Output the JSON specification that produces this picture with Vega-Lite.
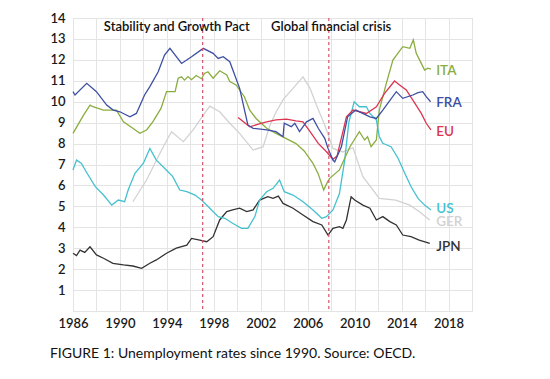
{
  "$schema": "https://vega.github.io/schema/vega-lite/v6.json",
  "width": 399,
  "height": 293,
  "autosize": {"type": "none"},
  "padding": {"left": 73, "top": 18, "right": 78, "bottom": 68},
  "background": "white",
  "config": {
    "view": {"stroke": "#cfcfcf", "strokeWidth": 1},
    "font": "Lato",
    "axis": {"labelFont": "Lato", "labelFontSize": 13, "labelColor": "#1a1a1a", "labelFontWeight": 600, "gridColor": "#e4e4e4", "gridWidth": 1, "domain": false, "ticks": false, "title": null, "labelOverlap": false, "labelFlush": false}
  },
  "title": {
    "text": "FIGURE 1: Unemployment rates since 1990. Source: OECD.",
    "orient": "bottom",
    "anchor": "start",
    "dx": 0,
    "offset": 17,
    "fontSize": 14,
    "fontWeight": "normal",
    "font": "Lato",
    "color": "#111111"
  },
  "datasets": {
    "series": [
      {"c":"GER","t":1991.1,"v":5.22},{"c":"GER","t":1992.27,"v":6.26},{"c":"GER","t":1993.26,"v":7.37},{"c":"GER","t":1994.0,"v":8.17},{"c":"GER","t":1994.4,"v":8.57},{"c":"GER","t":1995.4,"v":8.09},{"c":"GER","t":1996.24,"v":8.65},{"c":"GER","t":1997.1,"v":9.36},{"c":"GER","t":1997.66,"v":9.79},{"c":"GER","t":1998.5,"v":9.52},{"c":"GER","t":1999.36,"v":8.97},{"c":"GER","t":2000.2,"v":8.49},{"c":"GER","t":2001.35,"v":7.69},{"c":"GER","t":2002.2,"v":7.85},{"c":"GER","t":2002.8,"v":8.9},{"c":"GER","t":2003.3,"v":9.5},{"c":"GER","t":2003.9,"v":10.1},{"c":"GER","t":2004.75,"v":10.64},{"c":"GER","t":2005.6,"v":11.19},{"c":"GER","t":2006.2,"v":10.64},{"c":"GER","t":2006.74,"v":9.84},{"c":"GER","t":2007.45,"v":8.89},{"c":"GER","t":2008.15,"v":7.77},{"c":"GER","t":2009.0,"v":7.6},{"c":"GER","t":2009.86,"v":7.8},{"c":"GER","t":2010.7,"v":6.42},{"c":"GER","t":2012.1,"v":5.38},{"c":"GER","t":2013.5,"v":5.3},{"c":"GER","t":2014.7,"v":5.06},{"c":"GER","t":2015.5,"v":4.75},{"c":"GER","t":2016.4,"v":4.35},
      {"c":"JPN","t":1986.0,"v":2.76},{"c":"JPN","t":1986.3,"v":2.65},{"c":"JPN","t":1986.6,"v":2.91},{"c":"JPN","t":1987.0,"v":2.8},{"c":"JPN","t":1987.45,"v":3.07},{"c":"JPN","t":1988.0,"v":2.68},{"c":"JPN","t":1988.6,"v":2.52},{"c":"JPN","t":1989.4,"v":2.28},{"c":"JPN","t":1990.3,"v":2.2},{"c":"JPN","t":1991.1,"v":2.15},{"c":"JPN","t":1991.85,"v":2.04},{"c":"JPN","t":1992.55,"v":2.28},{"c":"JPN","t":1993.1,"v":2.44},{"c":"JPN","t":1993.97,"v":2.76},{"c":"JPN","t":1994.8,"v":3.0},{"c":"JPN","t":1995.7,"v":3.15},{"c":"JPN","t":1996.1,"v":3.47},{"c":"JPN","t":1996.8,"v":3.39},{"c":"JPN","t":1997.4,"v":3.31},{"c":"JPN","t":1997.94,"v":3.55},{"c":"JPN","t":1998.5,"v":4.35},{"c":"JPN","t":1999.1,"v":4.75},{"c":"JPN","t":1999.6,"v":4.83},{"c":"JPN","t":2000.2,"v":4.91},{"c":"JPN","t":2000.8,"v":4.75},{"c":"JPN","t":2001.35,"v":4.83},{"c":"JPN","t":2001.9,"v":5.3},{"c":"JPN","t":2002.6,"v":5.46},{"c":"JPN","t":2003.05,"v":5.38},{"c":"JPN","t":2003.5,"v":5.49},{"c":"JPN","t":2003.9,"v":5.14},{"c":"JPN","t":2004.75,"v":4.91},{"c":"JPN","t":2005.6,"v":4.59},{"c":"JPN","t":2006.45,"v":4.27},{"c":"JPN","t":2007.2,"v":4.11},{"c":"JPN","t":2007.73,"v":3.63},{"c":"JPN","t":2008.15,"v":3.95},{"c":"JPN","t":2008.7,"v":4.03},{"c":"JPN","t":2009.0,"v":3.95},{"c":"JPN","t":2009.3,"v":4.35},{"c":"JPN","t":2009.7,"v":5.46},{"c":"JPN","t":2010.0,"v":5.3},{"c":"JPN","t":2010.7,"v":5.06},{"c":"JPN","t":2011.3,"v":4.91},{"c":"JPN","t":2011.85,"v":4.35},{"c":"JPN","t":2012.4,"v":4.51},{"c":"JPN","t":2013.0,"v":4.27},{"c":"JPN","t":2013.55,"v":4.11},{"c":"JPN","t":2014.1,"v":3.63},{"c":"JPN","t":2014.8,"v":3.55},{"c":"JPN","t":2015.5,"v":3.39},{"c":"JPN","t":2016.4,"v":3.23},
      {"c":"US","t":1986.0,"v":6.74},{"c":"US","t":1986.3,"v":7.21},{"c":"US","t":1986.7,"v":7.06},{"c":"US","t":1987.2,"v":6.58},{"c":"US","t":1987.9,"v":5.94},{"c":"US","t":1988.6,"v":5.54},{"c":"US","t":1989.3,"v":5.06},{"c":"US","t":1989.86,"v":5.3},{"c":"US","t":1990.4,"v":5.22},{"c":"US","t":1990.7,"v":5.78},{"c":"US","t":1991.28,"v":6.58},{"c":"US","t":1992.0,"v":7.06},{"c":"US","t":1992.55,"v":7.77},{"c":"US","t":1993.1,"v":7.21},{"c":"US","t":1993.8,"v":6.82},{"c":"US","t":1994.5,"v":6.42},{"c":"US","t":1995.1,"v":5.78},{"c":"US","t":1995.7,"v":5.7},{"c":"US","t":1996.4,"v":5.54},{"c":"US","t":1996.95,"v":5.3},{"c":"US","t":1997.66,"v":4.91},{"c":"US","t":1998.37,"v":4.51},{"c":"US","t":1998.94,"v":4.43},{"c":"US","t":1999.6,"v":4.19},{"c":"US","t":2000.36,"v":3.95},{"c":"US","t":2000.9,"v":3.95},{"c":"US","t":2001.5,"v":4.51},{"c":"US","t":2001.9,"v":5.3},{"c":"US","t":2002.5,"v":5.7},{"c":"US","t":2003.05,"v":5.86},{"c":"US","t":2003.6,"v":6.26},{"c":"US","t":2004.0,"v":5.7},{"c":"US","t":2004.75,"v":5.54},{"c":"US","t":2005.6,"v":5.22},{"c":"US","t":2006.45,"v":4.83},{"c":"US","t":2007.2,"v":4.43},{"c":"US","t":2007.6,"v":4.51},{"c":"US","t":2008.15,"v":4.83},{"c":"US","t":2008.7,"v":5.6},{"c":"US","t":2009.15,"v":7.2},{"c":"US","t":2009.5,"v":9.0},{"c":"US","t":2009.96,"v":10.0},{"c":"US","t":2010.4,"v":9.76},{"c":"US","t":2011.0,"v":9.76},{"c":"US","t":2011.3,"v":9.44},{"c":"US","t":2011.85,"v":9.13},{"c":"US","t":2012.1,"v":8.33},{"c":"US","t":2012.4,"v":8.01},{"c":"US","t":2013.1,"v":7.85},{"c":"US","t":2013.7,"v":7.3},{"c":"US","t":2014.3,"v":6.55},{"c":"US","t":2014.8,"v":5.95},{"c":"US","t":2015.4,"v":5.38},{"c":"US","t":2015.96,"v":5.06},{"c":"US","t":2016.5,"v":4.83},
      {"c":"ITA","t":1986.0,"v":8.49},{"c":"ITA","t":1986.9,"v":9.36},{"c":"ITA","t":1987.45,"v":9.84},{"c":"ITA","t":1987.7,"v":9.76},{"c":"ITA","t":1988.6,"v":9.6},{"c":"ITA","t":1989.7,"v":9.6},{"c":"ITA","t":1990.3,"v":9.04},{"c":"ITA","t":1991.1,"v":8.73},{"c":"ITA","t":1991.7,"v":8.49},{"c":"ITA","t":1992.27,"v":8.65},{"c":"ITA","t":1992.8,"v":9.04},{"c":"ITA","t":1993.5,"v":9.68},{"c":"ITA","t":1993.97,"v":10.48},{"c":"ITA","t":1994.7,"v":10.48},{"c":"ITA","t":1994.96,"v":11.12},{"c":"ITA","t":1995.25,"v":11.19},{"c":"ITA","t":1995.5,"v":11.03},{"c":"ITA","t":1995.8,"v":11.2},{"c":"ITA","t":1996.1,"v":11.05},{"c":"ITA","t":1996.5,"v":11.25},{"c":"ITA","t":1996.95,"v":11.1},{"c":"ITA","t":1997.2,"v":11.35},{"c":"ITA","t":1997.5,"v":11.43},{"c":"ITA","t":1997.94,"v":11.12},{"c":"ITA","t":1998.5,"v":11.48},{"c":"ITA","t":1999.1,"v":11.28},{"c":"ITA","t":1999.36,"v":10.96},{"c":"ITA","t":1999.9,"v":10.8},{"c":"ITA","t":2000.6,"v":10.24},{"c":"ITA","t":2001.06,"v":9.6},{"c":"ITA","t":2001.6,"v":9.2},{"c":"ITA","t":2002.5,"v":8.73},{"c":"ITA","t":2003.3,"v":8.49},{"c":"ITA","t":2004.3,"v":8.2},{"c":"ITA","t":2005.0,"v":8.0},{"c":"ITA","t":2005.7,"v":7.65},{"c":"ITA","t":2006.45,"v":7.05},{"c":"ITA","t":2006.9,"v":6.55},{"c":"ITA","t":2007.36,"v":5.78},{"c":"ITA","t":2007.7,"v":6.18},{"c":"ITA","t":2007.87,"v":6.34},{"c":"ITA","t":2008.7,"v":6.74},{"c":"ITA","t":2009.6,"v":7.85},{"c":"ITA","t":2010.4,"v":8.57},{"c":"ITA","t":2010.85,"v":8.17},{"c":"ITA","t":2011.1,"v":8.33},{"c":"ITA","t":2011.4,"v":7.85},{"c":"ITA","t":2011.85,"v":8.17},{"c":"ITA","t":2012.1,"v":9.6},{"c":"ITA","t":2012.7,"v":10.88},{"c":"ITA","t":2013.26,"v":11.99},{"c":"ITA","t":2014.1,"v":12.63},{"c":"ITA","t":2014.7,"v":12.55},{"c":"ITA","t":2015.0,"v":12.95},{"c":"ITA","t":2015.25,"v":12.31},{"c":"ITA","t":2015.68,"v":11.83},{"c":"ITA","t":2015.96,"v":11.51},{"c":"ITA","t":2016.24,"v":11.6},{"c":"ITA","t":2016.5,"v":11.56},
      {"c":"EU","t":2000.07,"v":9.25},{"c":"EU","t":2001.06,"v":8.8},{"c":"EU","t":2001.8,"v":8.93},{"c":"EU","t":2002.5,"v":9.04},{"c":"EU","t":2003.3,"v":9.13},{"c":"EU","t":2004.2,"v":9.17},{"c":"EU","t":2005.0,"v":9.08},{"c":"EU","t":2005.6,"v":9.04},{"c":"EU","t":2006.2,"v":8.57},{"c":"EU","t":2006.9,"v":8.01},{"c":"EU","t":2007.6,"v":7.61},{"c":"EU","t":2008.15,"v":7.25},{"c":"EU","t":2008.5,"v":7.4},{"c":"EU","t":2009.3,"v":9.28},{"c":"EU","t":2009.86,"v":9.6},{"c":"EU","t":2011.0,"v":9.44},{"c":"EU","t":2011.85,"v":9.76},{"c":"EU","t":2012.55,"v":10.4},{"c":"EU","t":2013.4,"v":10.99},{"c":"EU","t":2013.83,"v":10.8},{"c":"EU","t":2014.4,"v":10.56},{"c":"EU","t":2014.96,"v":10.08},{"c":"EU","t":2015.68,"v":9.44},{"c":"EU","t":2016.1,"v":8.97},{"c":"EU","t":2016.5,"v":8.65},
      {"c":"FRA","t":1986.0,"v":10.48},{"c":"FRA","t":1986.17,"v":10.32},{"c":"FRA","t":1987.17,"v":10.88},{"c":"FRA","t":1988.0,"v":10.48},{"c":"FRA","t":1988.87,"v":9.84},{"c":"FRA","t":1989.43,"v":9.6},{"c":"FRA","t":1990.0,"v":9.52},{"c":"FRA","t":1990.85,"v":9.28},{"c":"FRA","t":1991.4,"v":9.44},{"c":"FRA","t":1992.1,"v":10.32},{"c":"FRA","t":1992.55,"v":10.72},{"c":"FRA","t":1993.26,"v":11.43},{"c":"FRA","t":1993.8,"v":12.23},{"c":"FRA","t":1994.26,"v":12.55},{"c":"FRA","t":1995.25,"v":11.83},{"c":"FRA","t":1996.1,"v":12.15},{"c":"FRA","t":1997.1,"v":12.55},{"c":"FRA","t":1997.94,"v":12.31},{"c":"FRA","t":1998.37,"v":12.07},{"c":"FRA","t":1998.8,"v":12.15},{"c":"FRA","t":1999.36,"v":11.91},{"c":"FRA","t":2000.2,"v":10.64},{"c":"FRA","t":2000.9,"v":8.89},{"c":"FRA","t":2001.35,"v":8.73},{"c":"FRA","t":2002.5,"v":8.65},{"c":"FRA","t":2003.3,"v":8.57},{"c":"FRA","t":2003.9,"v":8.33},{"c":"FRA","t":2004.0,"v":8.97},{"c":"FRA","t":2004.6,"v":8.81},{"c":"FRA","t":2004.9,"v":8.97},{"c":"FRA","t":2005.3,"v":8.57},{"c":"FRA","t":2005.9,"v":9.04},{"c":"FRA","t":2006.45,"v":9.2},{"c":"FRA","t":2006.9,"v":8.73},{"c":"FRA","t":2007.45,"v":8.25},{"c":"FRA","t":2007.73,"v":7.77},{"c":"FRA","t":2008.15,"v":7.21},{"c":"FRA","t":2008.3,"v":7.13},{"c":"FRA","t":2008.87,"v":7.85},{"c":"FRA","t":2009.4,"v":9.28},{"c":"FRA","t":2010.1,"v":9.6},{"c":"FRA","t":2011.3,"v":9.28},{"c":"FRA","t":2011.85,"v":9.2},{"c":"FRA","t":2012.4,"v":9.6},{"c":"FRA","t":2013.55,"v":10.48},{"c":"FRA","t":2014.1,"v":10.16},{"c":"FRA","t":2014.96,"v":10.32},{"c":"FRA","t":2015.4,"v":10.43},{"c":"FRA","t":2015.8,"v":10.48},{"c":"FRA","t":2016.1,"v":10.24},{"c":"FRA","t":2016.47,"v":10.0}
    ],
    "events": [{"t": 1997.05}, {"t": 2007.8}],
    "notes": [
      {"t": 1994.85, "v": 13.57, "label": "Stability and Growth Pact"},
      {"t": 2008.0, "v": 13.57, "label": "Global financial crisis"}
    ],
    "ends": [
      {"c": "ITA", "t": 2016.95, "v": 11.45},
      {"c": "FRA", "t": 2016.95, "v": 9.92},
      {"c": "EU", "t": 2016.95, "v": 8.57},
      {"c": "US", "t": 2016.95, "v": 4.88},
      {"c": "GER", "t": 2016.95, "v": 4.25},
      {"c": "JPN", "t": 2016.95, "v": 3.07}
    ]
  },
  "layer": [
    {
      "data": {"name": "series"},
      "mark": {"type": "line", "strokeWidth": 1.3, "interpolate": "linear"},
      "encoding": {
        "x": {
          "field": "t", "type": "quantitative",
          "scale": {"domain": [1986, 2020], "nice": false, "zero": false},
          "axis": {
            "values": [1986,1988,1990,1992,1994,1996,1998,2000,2002,2004,2006,2008,2010,2012,2014,2016,2018,2020],
            "labelExpr": "(datum.value - 1986) % 4 == 0 ? datum.value : ''",
            "format": "d", "labelPadding": 6, "grid": true
          }
        },
        "y": {
          "field": "v", "type": "quantitative",
          "scale": {"domain": [0, 14], "nice": false},
          "axis": {
            "values": [0,1,2,3,4,5,6,7,8,9,10,11,12,13,14],
            "labelExpr": "datum.value == 0 ? '' : datum.label",
            "labelPadding": 8, "grid": true
          }
        },
        "color": {
          "field": "c", "type": "nominal",
          "scale": {"domain": ["ITA", "FRA", "EU", "US", "GER", "JPN"], "range": ["#8aad3f", "#3d4fa3", "#dc3550", "#44c1cf", "#d2d2d2", "#333333"]},
          "legend": null
        },
        "detail": {"field": "c"},
        "order": {"field": "t", "type": "quantitative"}
      }
    },
    {
      "data": {"name": "events"},
      "mark": {"type": "rule", "color": "#d9506a", "strokeDash": [3, 3], "strokeWidth": 1.2},
      "encoding": {
        "x": {
          "field": "t", "type": "quantitative",
          "axis": {
            "values": [1986,1988,1990,1992,1994,1996,1998,2000,2002,2004,2006,2008,2010,2012,2014,2016,2018,2020],
            "labelExpr": "(datum.value - 1986) % 4 == 0 ? datum.value : ''",
            "format": "d", "labelPadding": 6, "grid": true
          }
        }
      }
    },
    {
      "data": {"name": "notes"},
      "mark": {"type": "text", "font": "Lato", "fontSize": 13, "fontWeight": 600, "color": "#111111", "align": "center", "baseline": "middle"},
      "encoding": {
        "x": {
          "field": "t", "type": "quantitative",
          "axis": {
            "values": [1986,1988,1990,1992,1994,1996,1998,2000,2002,2004,2006,2008,2010,2012,2014,2016,2018,2020],
            "labelExpr": "(datum.value - 1986) % 4 == 0 ? datum.value : ''",
            "format": "d", "labelPadding": 6, "grid": true
          }
        },
        "y": {
          "field": "v", "type": "quantitative",
          "axis": {
            "values": [0,1,2,3,4,5,6,7,8,9,10,11,12,13,14],
            "labelExpr": "datum.value == 0 ? '' : datum.label",
            "labelPadding": 8, "grid": true
          }
        },
        "text": {"field": "label"}
      }
    },
    {
      "data": {"name": "ends"},
      "mark": {"type": "text", "font": "Lato", "fontSize": 13.5, "fontWeight": 600, "align": "left", "baseline": "middle"},
      "encoding": {
        "x": {
          "field": "t", "type": "quantitative",
          "axis": {
            "values": [1986,1988,1990,1992,1994,1996,1998,2000,2002,2004,2006,2008,2010,2012,2014,2016,2018,2020],
            "labelExpr": "(datum.value - 1986) % 4 == 0 ? datum.value : ''",
            "format": "d", "labelPadding": 6, "grid": true
          }
        },
        "y": {
          "field": "v", "type": "quantitative",
          "axis": {
            "values": [0,1,2,3,4,5,6,7,8,9,10,11,12,13,14],
            "labelExpr": "datum.value == 0 ? '' : datum.label",
            "labelPadding": 8, "grid": true
          }
        },
        "text": {"field": "c"},
        "color": {"field": "c", "type": "nominal", "legend": null}
      }
    }
  ]
}
